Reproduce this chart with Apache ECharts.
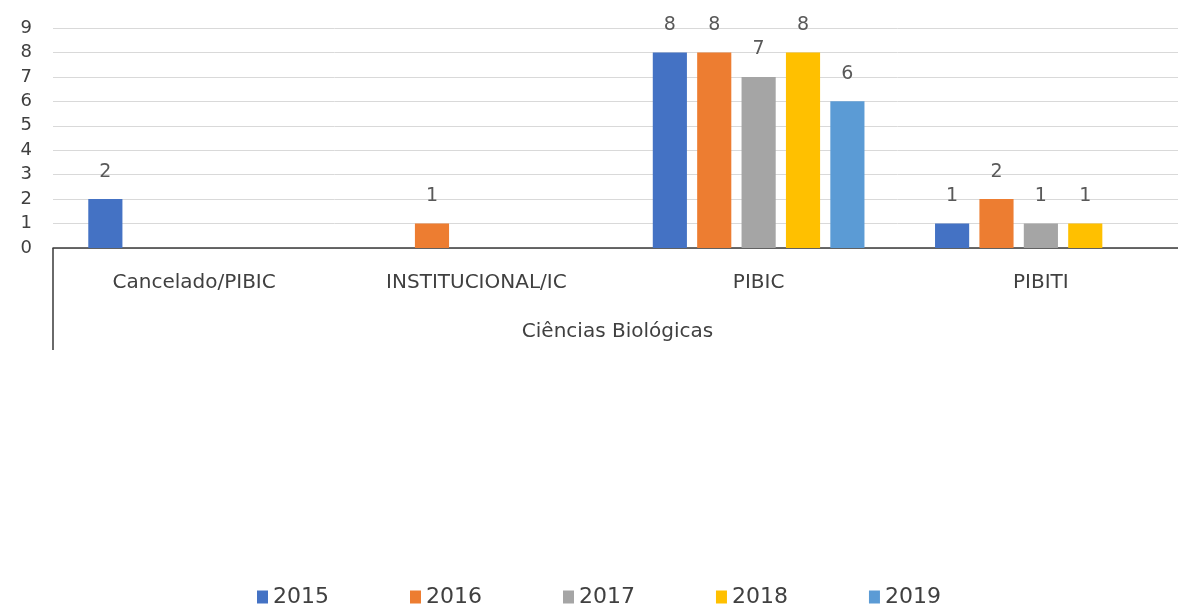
<!DOCTYPE html>
<html>
<head>
<meta charset="utf-8">
<title>Ciências Biológicas</title>
<script src="https://cdn.jsdelivr.net/npm/echarts@6/dist/echarts.min.js"></script>
<style>
  html, body { margin: 0; padding: 0; background: #fff; }
  #chart { width: 1178px; height: 607px; }
</style>
</head>
<body>
<div id="chart"></div>
<script>
// data
var categories = ["Cancelado/PIBIC", "INSTITUCIONAL/IC", "PIBIC", "PIBITI"];
var groupLabel = ["Ciências Biológicas"];
var years = ["2015", "2016", "2017", "2018", "2019"];
var v2015 = [2, null, 8, 1];
var v2016 = [null, 1, 8, 2];
var v2017 = [null, null, 7, 1];
var v2018 = [null, null, 8, 1];
var v2019 = [null, null, 6, null];
var yTicks = { min: 0, max: 9, step: 1 };

var colors = ["#4472C4", "#ED7D31", "#A5A5A5", "#FFC000", "#5B9BD5"];
var font = "DejaVu Sans";

var chart = echarts.init(document.getElementById("chart"));

var seriesValues = [v2015, v2016, v2017, v2018, v2019];
var series = years.map(function (name, i) {
  return {
    name: name,
    type: "bar",
    xAxisIndex: 0,
    data: seriesValues[i],
    barGap: "30%",
    barCategoryGap: "25%",
    itemStyle: { color: colors[i] },
    label: {
      show: true,
      position: "top",
      distance: 18,
      fontFamily: font,
      fontSize: 19,
      color: "#595959"
    }
  };
});

chart.setOption({
  backgroundColor: "#fff",
  animation: false,
  color: colors,
  grid: {
    left: 53,
    right: -4,
    top: 28,
    bottom: 359,
    outerBoundsMode: "none"
  },
  legend: {
    data: years,
    left: 252,
    top: 581,
    itemWidth: 11,
    itemHeight: 13,
    itemGap: 81,
    icon: "rect",
    textStyle: {
      fontFamily: font,
      fontSize: 22,
      color: "#404040"
    }
  },
  xAxis: [
    {
      type: "category",
      data: categories,
      position: "bottom",
      axisLine: { show: true, lineStyle: { color: "#3a3a3a", width: 1.5 } },
      axisTick: { show: false },
      axisLabel: {
        margin: 25,
        fontFamily: font,
        fontSize: 20,
        color: "#404040"
      }
    },
    {
      type: "category",
      data: groupLabel,
      position: "bottom",
      axisLine: { show: false },
      axisTick: {
        show: true,
        length: 102,
        lineStyle: { color: "#3a3a3a", width: 1.5 }
      },
      axisLabel: {
        margin: 74,
        fontFamily: font,
        fontSize: 20,
        color: "#404040"
      }
    }
  ],
  yAxis: {
    type: "value",
    min: yTicks.min,
    max: yTicks.max,
    interval: yTicks.step,
    axisLine: { show: false },
    axisTick: { show: false },
    splitLine: { lineStyle: { color: "#d9d9d9", width: 1 } },
    axisLabel: {
      margin: 21,
      fontFamily: font,
      fontSize: 18,
      color: "#404040"
    }
  },
  series: series
});
</script>
</body>
</html>
